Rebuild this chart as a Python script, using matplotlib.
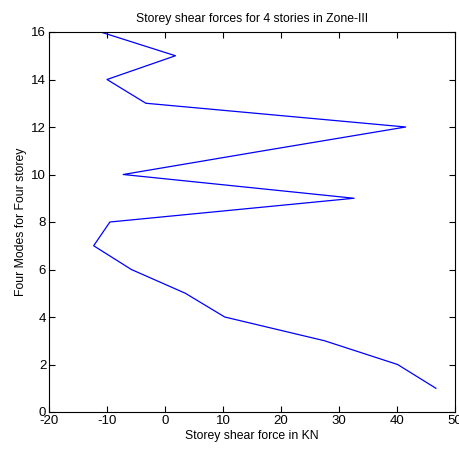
import matplotlib
matplotlib.use("Agg")
import matplotlib.pyplot as plt

shear = [46.7, 40.1, 27.5, 10.3, 3.5, -5.8, -12.3, -9.5, 32.6, -7.2, 17.0, 41.5, -3.3, -10.0, 1.8, -11.1]
storey = [1, 2, 3, 4, 5, 6, 7, 8, 9, 10, 11, 12, 13, 14, 15, 16]
xticks = [-20, -10, 0, 10, 20, 30, 40, 50]
yticks = [0, 2, 4, 6, 8, 10, 12, 14, 16]

plt.rcParams['font.family'] = ['Liberation Sans', 'DejaVu Sans']
plt.rcParams['axes.unicode_minus'] = False

fig = plt.figure(figsize=(4.59, 4.55), dpi=100)
ax = fig.add_axes([49/459, 43/455, 406/459, 380/455])
ax.plot(shear, storey, color='#0000ff', linewidth=0.9)
ax.set_xlim(-20, 50)
ax.set_ylim(0, 16)
ax.set_xticks(xticks)
ax.set_yticks(yticks)
ax.tick_params(direction='in', top=True, right=True, labelsize=9.5, length=4, width=0.8, pad=2)
for s in ax.spines.values():
    s.set_linewidth(0.8)
ax.set_title('Storey shear forces for 4 stories in Zone-III', fontsize=8.8, pad=7)
ax.set_xlabel('Storey shear force in KN', fontsize=8.8, labelpad=2)
ax.set_ylabel('Four Modes for Four storey', fontsize=8.8, labelpad=3)
fig.savefig('out.png', dpi=100)
